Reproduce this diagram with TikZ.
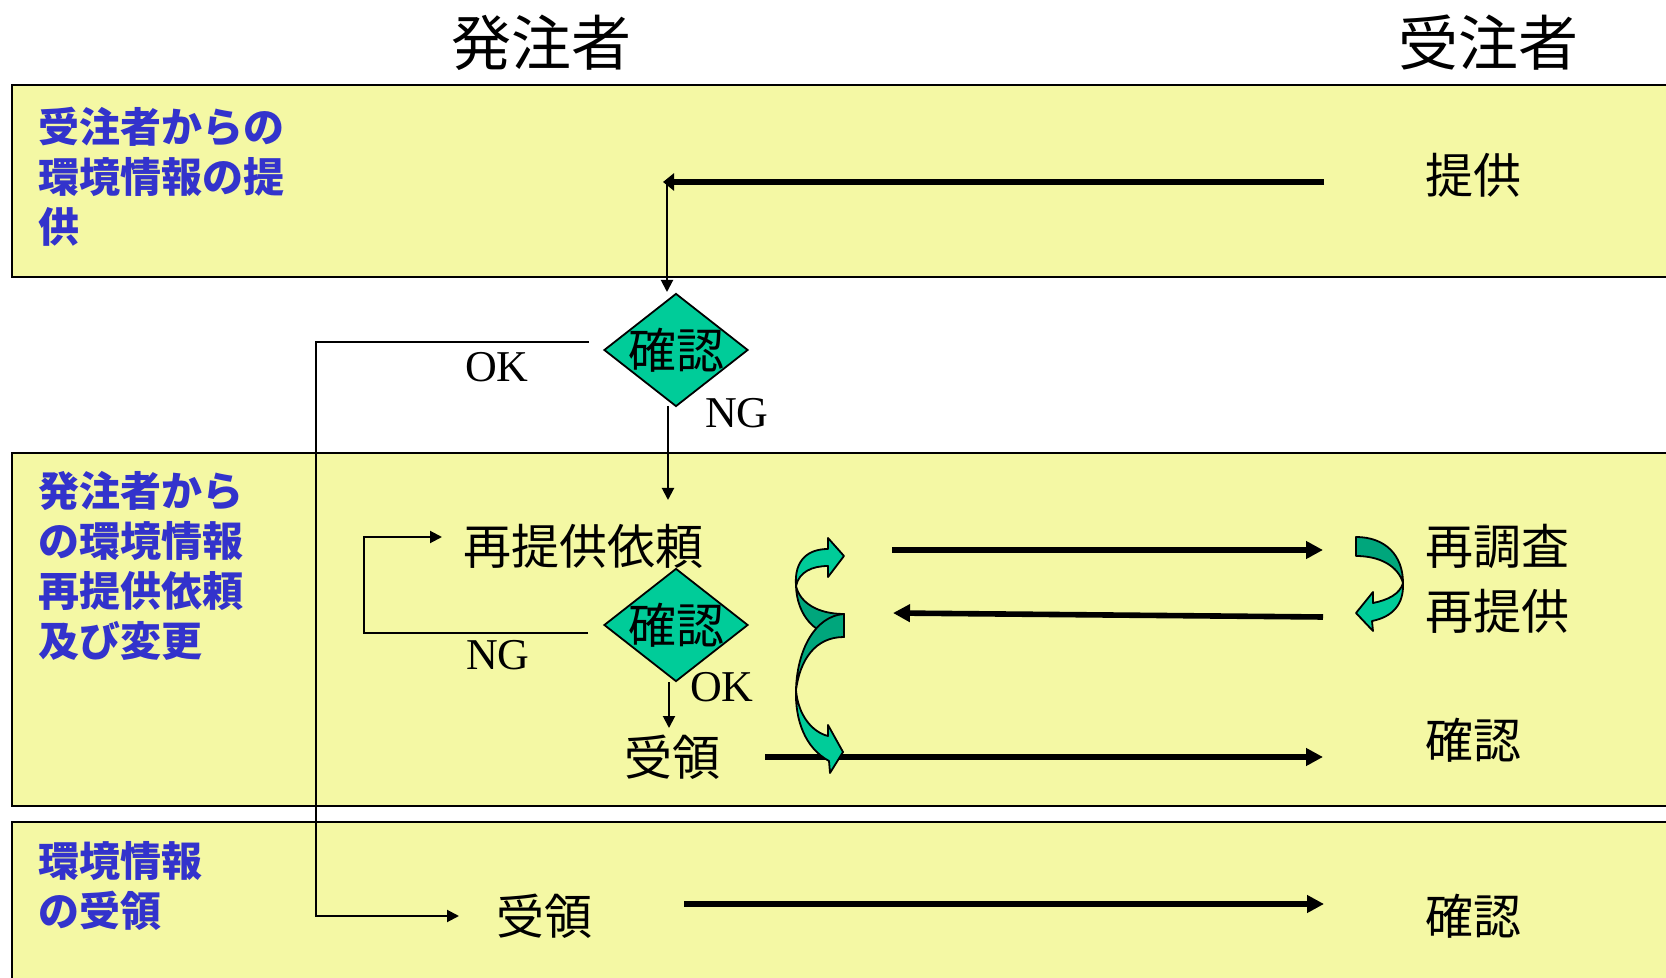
\documentclass[tikz,border=0pt]{standalone}
\usepackage{fontspec}
\setmainfont{Liberation Serif}
\newfontfamily\jp{Noto Sans CJK JP}
\usetikzlibrary{arrows.meta,shapes.geometric}
\definecolor{bandyellow}{HTML}{F4F8A4}
\definecolor{lblblue}{HTML}{3333CC}
\definecolor{teallight}{HTML}{00CC99}
\definecolor{tealdark}{HTML}{00A67C}
\tikzset{
  band/.style={fill=bandyellow,draw=black,line width=1pt},
  hdr/.style={font=\jp\fontsize{30}{36}\selectfont,inner sep=0pt,anchor=base},
  bandlbl/.style={font=\jp\bfseries\fontsize{20.5}{25}\selectfont,text=lblblue,align=left,inner sep=0pt,anchor=base west},
  jtxt/.style={font=\jp\fontsize{24}{28}\selectfont,inner sep=0pt},
  etxt/.style={font=\fontsize{22}{26}\selectfont,inner sep=0pt},
  dia/.style={shape=diamond,fill=teallight,draw=black,line width=0.9pt,minimum width=72pt,minimum height=56.5pt,inner sep=0pt},
  thickarrow/.style={line width=2.8pt,-{Triangle[length=8.5pt,width=8.5pt]}},
  thickarrowB/.style={line width=2.6pt,-{Triangle[length=5.5pt,width=8.5pt]}},
  thinline/.style={line width=1pt},
  thinarrow/.style={line width=1pt,-{Triangle[length=6pt,width=6pt]}},
  ribbonlight/.style={fill=teallight,draw=black,line width=0.9pt,line join=round},
  ribbondark/.style={fill=tealdark,draw=black,line width=0.9pt,line join=round},
}
\begin{document}
\begin{tikzpicture}[x=0.5pt,y=-0.5pt]
\useasboundingbox (0,0) rectangle (1666,978);
\fill[white] (0,0) rectangle (1666,978);
% bands
\path[band] (12,85) rectangle (1680,277);
\path[band] (12,453) rectangle (1680,806);
\path[band] (12,822) rectangle (1680,990);
% headers
\node[hdr] (h1) at (541,66) {発注者};
\node[hdr] (h2) at (1488,66) {受注者};
% band labels (anchor = baseline of last line)
\node[bandlbl] (L1) at (38,243) {受注者からの\\環境情報の提\\供};
\node[bandlbl] (L2) at (38,656) {発注者から\\の環境情報\\再提供依頼\\及び変更};
\node[bandlbl] (L3) at (38,926) {環境情報\\の受領};
% right column texts
\node[jtxt,anchor=base west] (tk) at (1425,194) {提供};
\node[jtxt,anchor=base west] (rc) at (1425,565) {再調査};
\node[jtxt,anchor=base west] (rt) at (1425,629) {再提供};
\node[jtxt,anchor=base west] (kn2) at (1425,758) {確認};
\node[jtxt,anchor=base west] (kn3) at (1425,934) {確認};
% left column texts
\node[jtxt,anchor=base] (req) at (583,565) {再提供依頼};
\node[jtxt,anchor=base] (rec2) at (672,775) {受領};
\node[jtxt,anchor=base] (rec3) at (544,934) {受領};
% diamonds
\node[dia,label={[jtxt]center:確認}] (d1) at (676,350) {};
\node[dia,label={[jtxt]center:確認}] (d2) at (676,625) {};
% OK / NG labels
\node[etxt] (ok1) at (497,367) {OK};
\node[etxt] (ng1) at (737,413) {NG};
\node[etxt] (ng2) at (498,655) {NG};
\node[etxt] (ok2) at (722,687) {OK};
% coordinates
\coordinate (a1s) at (1324,182);
\coordinate (a1e) at (663,182);
\coordinate (v1) at (667,182);
\coordinate (v1e) at (667,292);
\coordinate (v2s) at (668,406);
\coordinate (v2e) at (668,500);
\coordinate (oks) at (589,342);
\coordinate (okc1) at (316,342);
\coordinate (okc2) at (316,916);
\coordinate (oke) at (459,916);
\coordinate (ngs) at (588,633);
\coordinate (ngc1) at (364,633);
\coordinate (ngc2) at (364,537);
\coordinate (nge) at (442,537);
\coordinate (v3s) at (669,682);
\coordinate (v3e) at (669,728);
\coordinate (b1s) at (892,550);
\coordinate (b1e) at (1323,550);
\coordinate (b2s) at (1323,617);
\coordinate (b2e) at (893,613);
\coordinate (b3s) at (765,757);
\coordinate (b3e) at (1323,757);
\coordinate (c1s) at (684,904);
\coordinate (c1e) at (1324,904);
% connectors
\draw[thickarrowB] (a1s) -- (a1e);
\draw[thinarrow] (v1) -- (v1e);
\draw[thinarrow] (v2s) -- (v2e);
\draw[thinarrow] (oks) -- (okc1) -- (okc2) -- (oke);
\draw[thinarrow] (ngs) -- (ngc1) -- (ngc2) -- (nge);
\draw[thinarrow] (v3s) -- (v3e);
\draw[thickarrow] (b1s) -- (b1e);
\draw[thickarrow] (b2s) -- (b2e);
\draw[thickarrow] (b3s) -- (b3e);
\draw[thickarrow] (c1s) -- (c1e);
% curved ribbon arrows (left)
\path[ribbondark] (796,586) .. controls (800,603) and (818,614) .. (844,614) -- (844,637) .. controls (815,637) and (797,615) .. (796,586) -- cycle;
\path[ribbonlight] (796,586) .. controls (794,560) and (808,549) .. (828,549) -- (828,538) -- (844,556) -- (828,577) -- (828,566) .. controls (812,566) and (799,572) .. (796,586) -- cycle;
\path[ribbondark] (844,614) .. controls (815,616) and (797,650) .. (796,690) .. controls (800,660) and (815,637) .. (844,637) -- cycle;
\path[ribbonlight] (796,690) .. controls (798,715) and (812,732) .. (828,736) -- (828,725) -- (843,752) -- (830,773) -- (829,761) .. controls (805,748) and (795,720) .. (796,690) -- cycle;
% curved ribbon arrow (right)
\path[ribbondark] (1356,537) .. controls (1385,537) and (1403,555) .. (1403,583) .. controls (1398,566) and (1380,556) .. (1356,556) -- cycle;
\path[ribbonlight] (1403,583) .. controls (1404,605) and (1392,617) .. (1372,621) -- (1373,631) -- (1356,613) -- (1373,592) -- (1373,603) .. controls (1388,600) and (1400,594) .. (1403,583) -- cycle;
\end{tikzpicture}
\end{document}
